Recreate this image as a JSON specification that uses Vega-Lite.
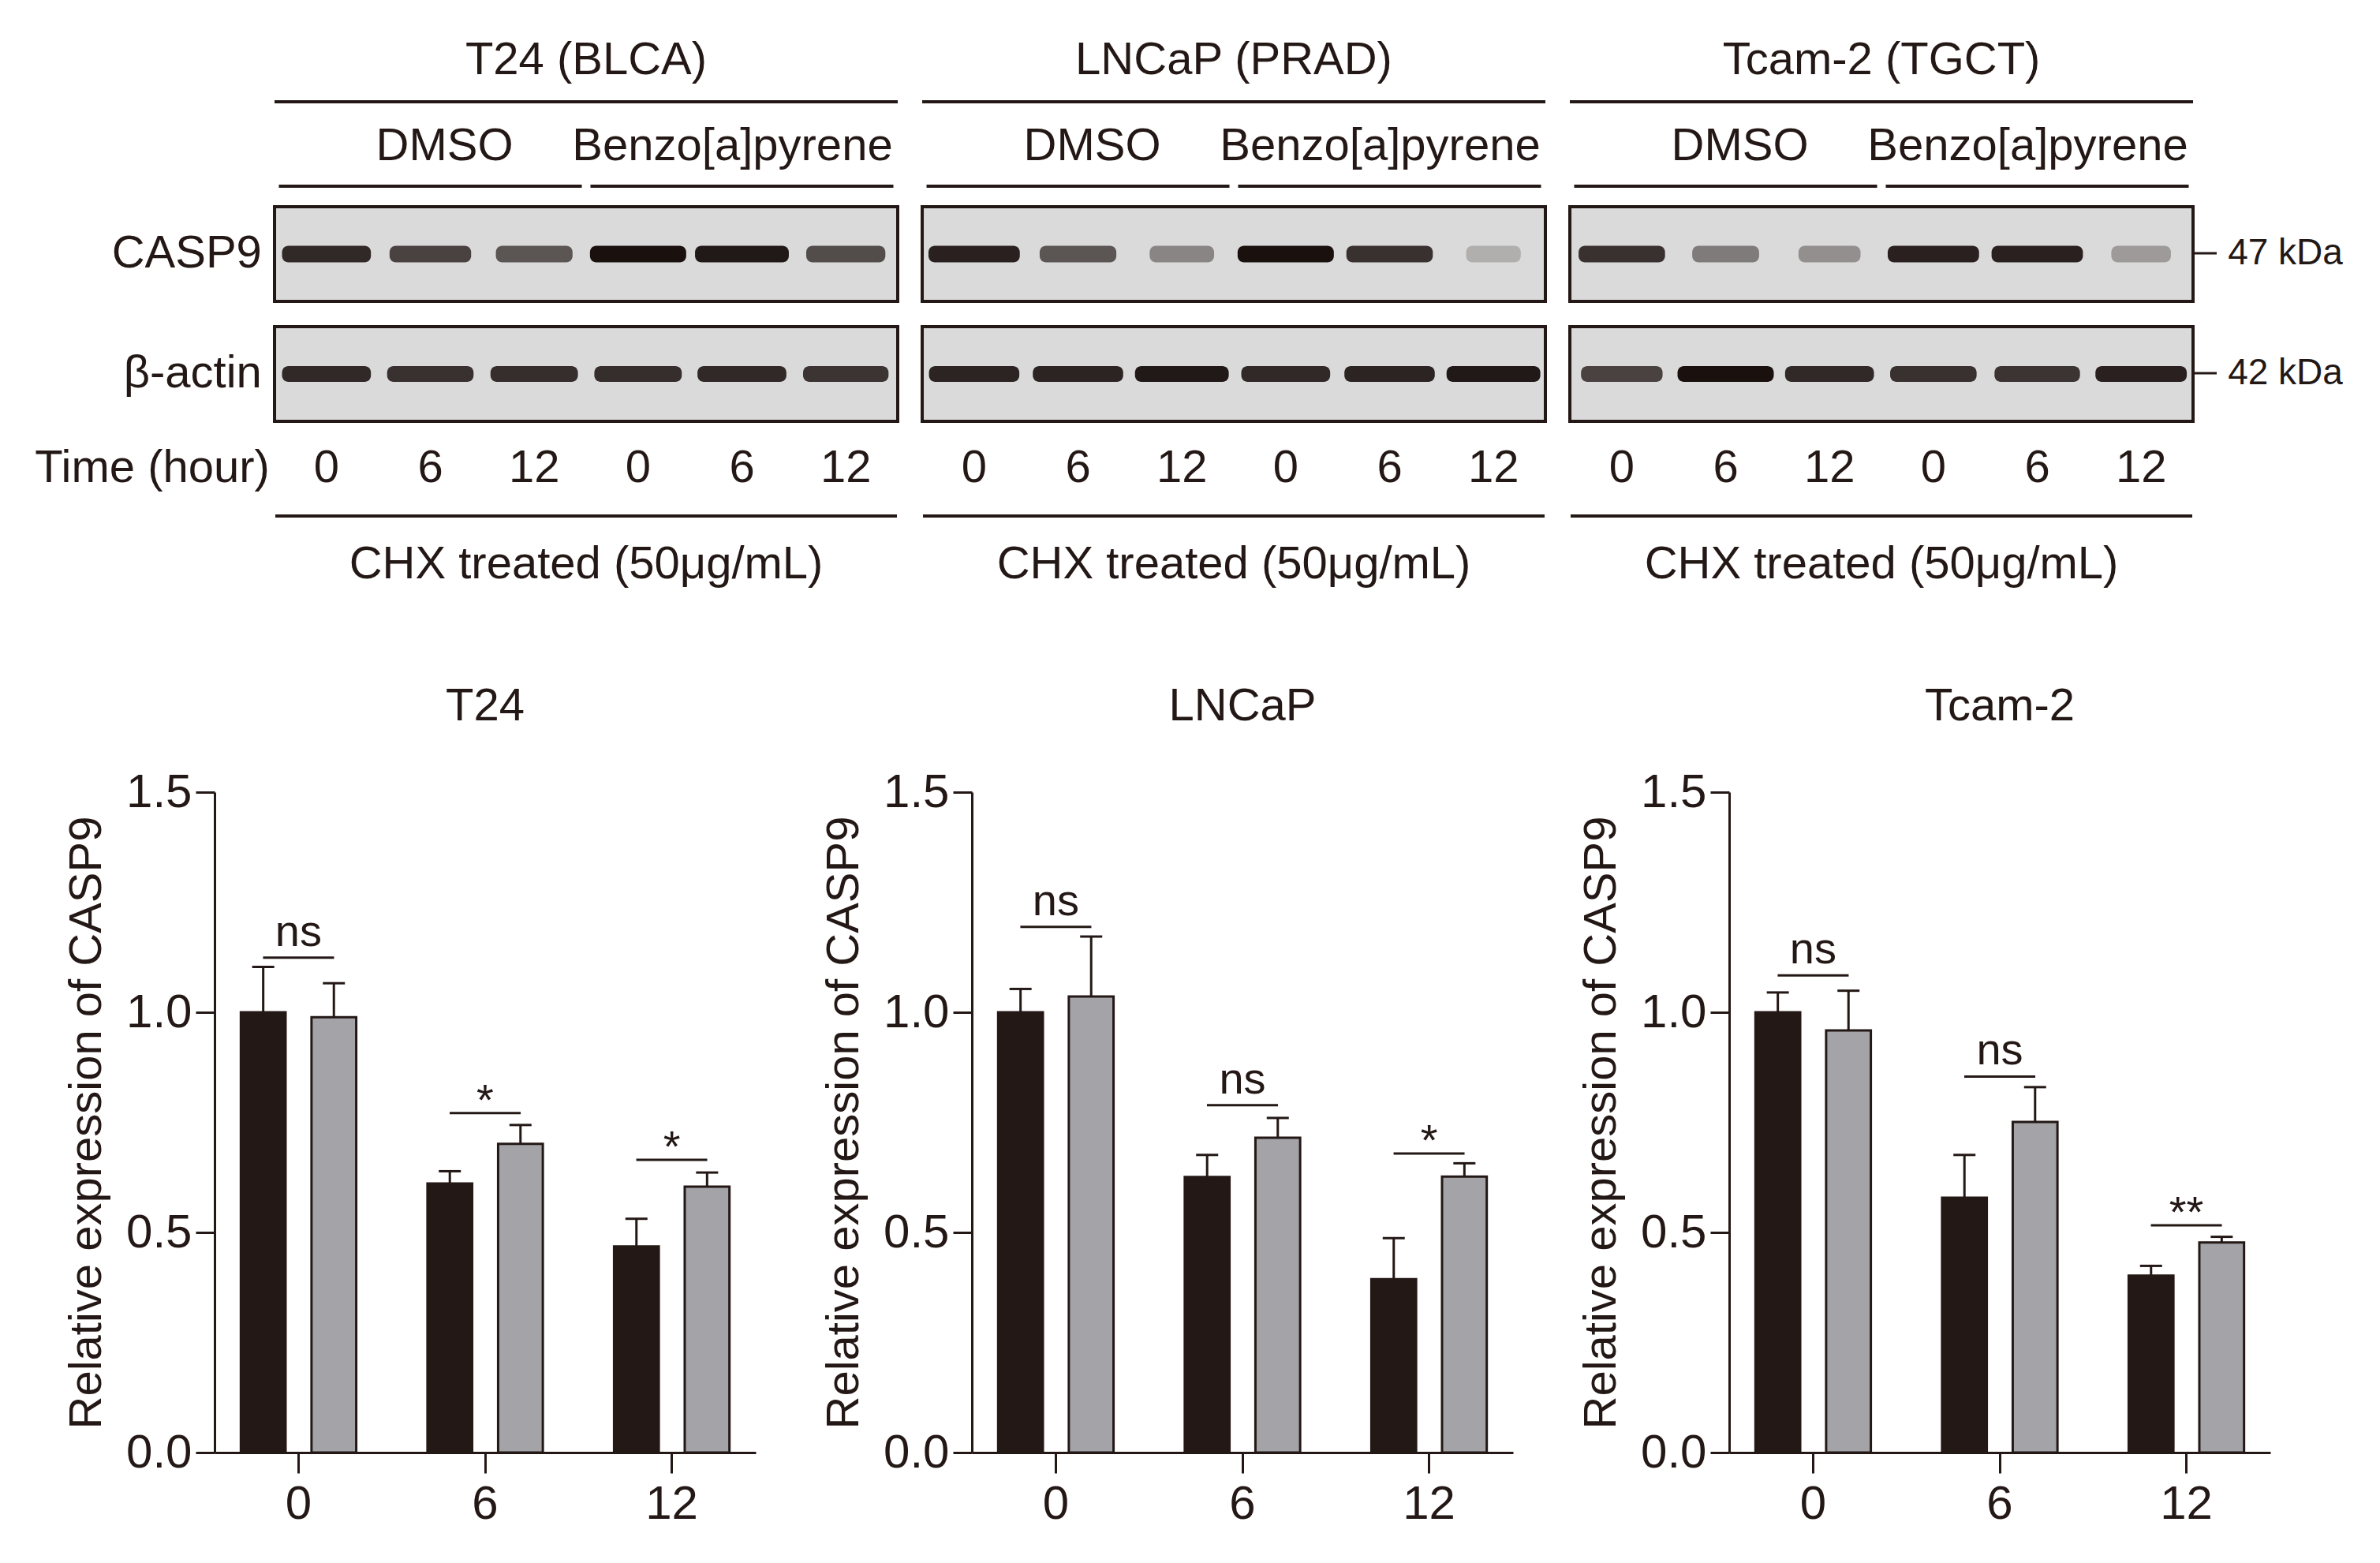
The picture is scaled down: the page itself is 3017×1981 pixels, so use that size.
{
"$schema": "https://vega.github.io/schema/vega-lite/v6.json",
"background": "white",
"padding": {"left": 44, "top": 0, "right": 0, "bottom": 0},
"bounds": "flush",
"spacing": 224,
"resolve": {"scale": {"xOffset": "independent", "color": "independent", "size": "independent", "fill": "independent"}},
"config": {
  "view": {"stroke": null},
  "font": "Liberation Sans",
  "text": {"color": "#231815", "font": "Liberation Sans", "fontSize": 58},
  "rule": {"color": "#231815"},
  "tick": {"color": "#231815", "opacity": 1},
  "axis": {"domainColor": "#231815", "tickColor": "#231815", "labelColor": "#231815", "titleColor": "#231815", "labelFont": "Liberation Sans", "titleFont": "Liberation Sans", "grid": false, "domainWidth": 3, "tickWidth": 3, "titleFontWeight": "normal"},
  "title": {"font": "Liberation Sans", "fontSize": 58, "fontWeight": "normal", "color": "#231815"}
},
"datasets": {
  "blots": [
    {"blot": "T24", "title": "T24 (BLCA)"},
    {"blot": "LNCaP", "title": "LNCaP (PRAD)"},
    {"blot": "Tcam-2", "title": "Tcam-2 (TGCT)"}
  ],
  "lanes": [
    {"blot": "T24", "lane": 1, "time": "0", "treatment": "DMSO"},
    {"blot": "T24", "lane": 2, "time": "6", "treatment": "DMSO"},
    {"blot": "T24", "lane": 3, "time": "12", "treatment": "DMSO"},
    {"blot": "T24", "lane": 4, "time": "0", "treatment": "Benzo[a]pyrene"},
    {"blot": "T24", "lane": 5, "time": "6", "treatment": "Benzo[a]pyrene"},
    {"blot": "T24", "lane": 6, "time": "12", "treatment": "Benzo[a]pyrene"},
    {"blot": "LNCaP", "lane": 1, "time": "0", "treatment": "DMSO"},
    {"blot": "LNCaP", "lane": 2, "time": "6", "treatment": "DMSO"},
    {"blot": "LNCaP", "lane": 3, "time": "12", "treatment": "DMSO"},
    {"blot": "LNCaP", "lane": 4, "time": "0", "treatment": "Benzo[a]pyrene"},
    {"blot": "LNCaP", "lane": 5, "time": "6", "treatment": "Benzo[a]pyrene"},
    {"blot": "LNCaP", "lane": 6, "time": "12", "treatment": "Benzo[a]pyrene"},
    {"blot": "Tcam-2", "lane": 1, "time": "0", "treatment": "DMSO"},
    {"blot": "Tcam-2", "lane": 2, "time": "6", "treatment": "DMSO"},
    {"blot": "Tcam-2", "lane": 3, "time": "12", "treatment": "DMSO"},
    {"blot": "Tcam-2", "lane": 4, "time": "0", "treatment": "Benzo[a]pyrene"},
    {"blot": "Tcam-2", "lane": 5, "time": "6", "treatment": "Benzo[a]pyrene"},
    {"blot": "Tcam-2", "lane": 6, "time": "12", "treatment": "Benzo[a]pyrene"}
  ],
  "bands": [
    {"blot": "T24", "protein": "CASP9", "lane": 1, "intensity": 0.85},
    {"blot": "T24", "protein": "CASP9", "lane": 2, "intensity": 0.7},
    {"blot": "T24", "protein": "CASP9", "lane": 3, "intensity": 0.6},
    {"blot": "T24", "protein": "CASP9", "lane": 4, "intensity": 1.0},
    {"blot": "T24", "protein": "CASP9", "lane": 5, "intensity": 0.95},
    {"blot": "T24", "protein": "CASP9", "lane": 6, "intensity": 0.65},
    {"blot": "T24", "protein": "β-actin", "lane": 1, "intensity": 0.85},
    {"blot": "T24", "protein": "β-actin", "lane": 2, "intensity": 0.8},
    {"blot": "T24", "protein": "β-actin", "lane": 3, "intensity": 0.82},
    {"blot": "T24", "protein": "β-actin", "lane": 4, "intensity": 0.82},
    {"blot": "T24", "protein": "β-actin", "lane": 5, "intensity": 0.85},
    {"blot": "T24", "protein": "β-actin", "lane": 6, "intensity": 0.78},
    {"blot": "LNCaP", "protein": "CASP9", "lane": 1, "intensity": 0.9},
    {"blot": "LNCaP", "protein": "CASP9", "lane": 2, "intensity": 0.6},
    {"blot": "LNCaP", "protein": "CASP9", "lane": 3, "intensity": 0.35},
    {"blot": "LNCaP", "protein": "CASP9", "lane": 4, "intensity": 1.0},
    {"blot": "LNCaP", "protein": "CASP9", "lane": 5, "intensity": 0.8},
    {"blot": "LNCaP", "protein": "CASP9", "lane": 6, "intensity": 0.15},
    {"blot": "LNCaP", "protein": "β-actin", "lane": 1, "intensity": 0.88},
    {"blot": "LNCaP", "protein": "β-actin", "lane": 2, "intensity": 0.88},
    {"blot": "LNCaP", "protein": "β-actin", "lane": 3, "intensity": 0.95},
    {"blot": "LNCaP", "protein": "β-actin", "lane": 4, "intensity": 0.85},
    {"blot": "LNCaP", "protein": "β-actin", "lane": 5, "intensity": 0.88},
    {"blot": "LNCaP", "protein": "β-actin", "lane": 6, "intensity": 0.95},
    {"blot": "Tcam-2", "protein": "CASP9", "lane": 1, "intensity": 0.8},
    {"blot": "Tcam-2", "protein": "CASP9", "lane": 2, "intensity": 0.4},
    {"blot": "Tcam-2", "protein": "CASP9", "lane": 3, "intensity": 0.3},
    {"blot": "Tcam-2", "protein": "CASP9", "lane": 4, "intensity": 0.9},
    {"blot": "Tcam-2", "protein": "CASP9", "lane": 5, "intensity": 0.9},
    {"blot": "Tcam-2", "protein": "CASP9", "lane": 6, "intensity": 0.25},
    {"blot": "Tcam-2", "protein": "β-actin", "lane": 1, "intensity": 0.7},
    {"blot": "Tcam-2", "protein": "β-actin", "lane": 2, "intensity": 1.0},
    {"blot": "Tcam-2", "protein": "β-actin", "lane": 3, "intensity": 0.85},
    {"blot": "Tcam-2", "protein": "β-actin", "lane": 4, "intensity": 0.8},
    {"blot": "Tcam-2", "protein": "β-actin", "lane": 5, "intensity": 0.78},
    {"blot": "Tcam-2", "protein": "β-actin", "lane": 6, "intensity": 0.9}
  ],
  "bars": [
    {"cell": "T24", "time": "0", "group": "DMSO", "value": 1.0, "err": 1.103},
    {"cell": "T24", "time": "0", "group": "Benzo[a]pyrene", "value": 0.989, "err": 1.066},
    {"cell": "T24", "time": "6", "group": "DMSO", "value": 0.611, "err": 0.639},
    {"cell": "T24", "time": "6", "group": "Benzo[a]pyrene", "value": 0.701, "err": 0.744},
    {"cell": "T24", "time": "12", "group": "DMSO", "value": 0.468, "err": 0.531},
    {"cell": "T24", "time": "12", "group": "Benzo[a]pyrene", "value": 0.604, "err": 0.636},
    {"cell": "LNCaP", "time": "0", "group": "DMSO", "value": 1.0, "err": 1.053},
    {"cell": "LNCaP", "time": "0", "group": "Benzo[a]pyrene", "value": 1.036, "err": 1.172},
    {"cell": "LNCaP", "time": "6", "group": "DMSO", "value": 0.626, "err": 0.676},
    {"cell": "LNCaP", "time": "6", "group": "Benzo[a]pyrene", "value": 0.715, "err": 0.76},
    {"cell": "LNCaP", "time": "12", "group": "DMSO", "value": 0.394, "err": 0.487},
    {"cell": "LNCaP", "time": "12", "group": "Benzo[a]pyrene", "value": 0.627, "err": 0.657},
    {"cell": "Tcam-2", "time": "0", "group": "DMSO", "value": 1.0, "err": 1.045},
    {"cell": "Tcam-2", "time": "0", "group": "Benzo[a]pyrene", "value": 0.959, "err": 1.049},
    {"cell": "Tcam-2", "time": "6", "group": "DMSO", "value": 0.579, "err": 0.676},
    {"cell": "Tcam-2", "time": "6", "group": "Benzo[a]pyrene", "value": 0.751, "err": 0.83},
    {"cell": "Tcam-2", "time": "12", "group": "DMSO", "value": 0.402, "err": 0.424},
    {"cell": "Tcam-2", "time": "12", "group": "Benzo[a]pyrene", "value": 0.477, "err": 0.49}
  ],
  "sig": [
    {"cell": "T24", "time": "0", "line": 1.124, "label": "ns"},
    {"cell": "T24", "time": "6", "line": 0.771, "label": "*"},
    {"cell": "T24", "time": "12", "line": 0.665, "label": "*"},
    {"cell": "LNCaP", "time": "0", "line": 1.194, "label": "ns"},
    {"cell": "LNCaP", "time": "6", "line": 0.789, "label": "ns"},
    {"cell": "LNCaP", "time": "12", "line": 0.679, "label": "*"},
    {"cell": "Tcam-2", "time": "0", "line": 1.084, "label": "ns"},
    {"cell": "Tcam-2", "time": "6", "line": 0.854, "label": "ns"},
    {"cell": "Tcam-2", "time": "12", "line": 0.516, "label": "**"}
  ]
},
"vconcat": [
{
"width": 2508, "height": 780,
"layer": [
  {"data": {"name": "blots"}, "mark": {"type": "text", "baseline": "middle"},
   "encoding": {
     "x": {"field": "blot", "type": "nominal", "scale": {"domain": ["T24", "LNCaP", "Tcam-2"], "paddingInner": 0.0378, "paddingOuter": 0.0463, "align": 1}, "axis": null},
     "y": {"datum": 7.7, "type": "quantitative", "scale": {"domain": [0, 78], "reverse": true, "nice": false, "zero": false}, "axis": null},
     "text": {"field": "title"}}},
  {"data": {"name": "blots"}, "mark": {"type": "tick", "orient": "horizontal", "size": 790, "thickness": 4},
   "encoding": {
     "x": {"field": "blot", "type": "nominal", "scale": {"domain": ["T24", "LNCaP", "Tcam-2"], "paddingInner": 0.0378, "paddingOuter": 0.0463, "align": 1}, "axis": null},
     "y": {"datum": 12.9, "type": "quantitative", "scale": {"domain": [0, 78], "reverse": true, "nice": false, "zero": false}, "axis": null}}},
  {"data": {"name": "lanes"}, "transform": [{"aggregate": [{"op": "median", "field": "lane", "as": "mid"}], "groupby": ["blot", "treatment"]}, {"filter": "datum.treatment === 'DMSO'"}],
   "mark": {"type": "text", "baseline": "middle", "dx": 18},
   "encoding": {
     "x": {"field": "blot", "type": "nominal", "scale": {"domain": ["T24", "LNCaP", "Tcam-2"], "paddingInner": 0.0378, "paddingOuter": 0.0463, "align": 1}, "axis": null},
     "xOffset": {"field": "mid", "type": "ordinal", "scale": {"domain": [1, 2, 3, 4, 5, 6], "paddingInner": 0, "paddingOuter": 0}},
     "y": {"datum": 18.6, "type": "quantitative", "scale": {"domain": [0, 78], "reverse": true, "nice": false, "zero": false}, "axis": null},
     "text": {"field": "treatment"}}},
  {"data": {"name": "lanes"}, "transform": [{"aggregate": [{"op": "median", "field": "lane", "as": "mid"}], "groupby": ["blot", "treatment"]}, {"filter": "datum.treatment !== 'DMSO'"}],
   "mark": {"type": "text", "baseline": "middle", "dx": -12},
   "encoding": {
     "x": {"field": "blot", "type": "nominal", "scale": {"domain": ["T24", "LNCaP", "Tcam-2"], "paddingInner": 0.0378, "paddingOuter": 0.0463, "align": 1}, "axis": null},
     "xOffset": {"field": "mid", "type": "ordinal", "scale": {"domain": [1, 2, 3, 4, 5, 6], "paddingInner": 0, "paddingOuter": 0}},
     "y": {"datum": 18.6, "type": "quantitative", "scale": {"domain": [0, 78], "reverse": true, "nice": false, "zero": false}, "axis": null},
     "text": {"field": "treatment"}}},
  {"data": {"name": "lanes"}, "transform": [{"aggregate": [{"op": "median", "field": "lane", "as": "mid"}], "groupby": ["blot", "treatment"]}],
   "mark": {"type": "tick", "orient": "horizontal", "size": 384, "thickness": 4},
   "encoding": {
     "x": {"field": "blot", "type": "nominal", "scale": {"domain": ["T24", "LNCaP", "Tcam-2"], "paddingInner": 0.0378, "paddingOuter": 0.0463, "align": 1}, "axis": null},
     "xOffset": {"field": "mid", "type": "ordinal", "scale": {"domain": [1, 2, 3, 4, 5, 6], "paddingInner": 0, "paddingOuter": 0}},
     "y": {"datum": 23.6, "type": "quantitative", "scale": {"domain": [0, 78], "reverse": true, "nice": false, "zero": false}, "axis": null}}},
  {"data": {"name": "blots"}, "mark": {"type": "rect", "fill": "#dadada", "stroke": "#231815", "strokeWidth": 4},
   "encoding": {
     "x": {"field": "blot", "type": "nominal", "scale": {"domain": ["T24", "LNCaP", "Tcam-2"], "paddingInner": 0.0378, "paddingOuter": 0.0463, "align": 1}, "axis": null},
     "y": {"datum": 26.2, "type": "quantitative", "scale": {"domain": [0, 78], "reverse": true, "nice": false, "zero": false}, "axis": null},
     "y2": {"datum": 38.2}}},
  {"data": {"name": "blots"}, "mark": {"type": "rect", "fill": "#dadada", "stroke": "#231815", "strokeWidth": 4},
   "encoding": {
     "x": {"field": "blot", "type": "nominal", "scale": {"domain": ["T24", "LNCaP", "Tcam-2"], "paddingInner": 0.0378, "paddingOuter": 0.0463, "align": 1}, "axis": null},
     "y": {"datum": 41.4, "type": "quantitative", "scale": {"domain": [0, 78], "reverse": true, "nice": false, "zero": false}, "axis": null},
     "y2": {"datum": 53.4}}},
  {"data": {"name": "bands"}, "transform": [{"filter": "datum.protein === 'CASP9'"}],
   "mark": {"type": "tick", "orient": "horizontal", "thickness": 21, "opacity": 1, "cornerRadius": 8},
   "encoding": {
     "x": {"field": "blot", "type": "nominal", "scale": {"domain": ["T24", "LNCaP", "Tcam-2"], "paddingInner": 0.0378, "paddingOuter": 0.0463, "align": 1}, "axis": null},
     "xOffset": {"field": "lane", "type": "ordinal", "scale": {"domain": [1, 2, 3, 4, 5, 6], "paddingInner": 0, "paddingOuter": 0}},
     "y": {"datum": 32.2, "type": "quantitative", "scale": {"domain": [0, 78], "reverse": true, "nice": false, "zero": false}, "axis": null},
     "color": {"field": "intensity", "type": "quantitative", "scale": {"domain": [0, 1], "range": ["#cfcfcf", "#1a100e"]}, "legend": null},
     "size": {"field": "intensity", "type": "quantitative", "scale": {"domain": [0, 1], "range": [60, 122]}, "legend": null}}},
  {"data": {"name": "bands"}, "transform": [{"filter": "datum.protein === 'β-actin'"}],
   "mark": {"type": "tick", "orient": "horizontal", "thickness": 20, "opacity": 1, "cornerRadius": 8},
   "encoding": {
     "x": {"field": "blot", "type": "nominal", "scale": {"domain": ["T24", "LNCaP", "Tcam-2"], "paddingInner": 0.0378, "paddingOuter": 0.0463, "align": 1}, "axis": null},
     "xOffset": {"field": "lane", "type": "ordinal", "scale": {"domain": [1, 2, 3, 4, 5, 6], "paddingInner": 0, "paddingOuter": 0}},
     "y": {"datum": 47.4, "type": "quantitative", "scale": {"domain": [0, 78], "reverse": true, "nice": false, "zero": false}, "axis": null},
     "color": {"field": "intensity", "type": "quantitative", "scale": {"domain": [0, 1], "range": ["#cfcfcf", "#1a100e"]}, "legend": null},
     "size": {"field": "intensity", "type": "quantitative", "scale": {"domain": [0, 1], "range": [60, 122]}, "legend": null}}},
  {"data": {"name": "lanes"}, "mark": {"type": "text", "baseline": "middle"},
   "encoding": {
     "x": {"field": "blot", "type": "nominal", "scale": {"domain": ["T24", "LNCaP", "Tcam-2"], "paddingInner": 0.0378, "paddingOuter": 0.0463, "align": 1}, "axis": null},
     "xOffset": {"field": "lane", "type": "ordinal", "scale": {"domain": [1, 2, 3, 4, 5, 6], "paddingInner": 0, "paddingOuter": 0}},
     "y": {"datum": 59.4, "type": "quantitative", "scale": {"domain": [0, 78], "reverse": true, "nice": false, "zero": false}, "axis": null},
     "text": {"field": "time"}}},
  {"data": {"name": "blots"}, "mark": {"type": "tick", "orient": "horizontal", "size": 788, "thickness": 4},
   "encoding": {
     "x": {"field": "blot", "type": "nominal", "scale": {"domain": ["T24", "LNCaP", "Tcam-2"], "paddingInner": 0.0378, "paddingOuter": 0.0463, "align": 1}, "axis": null},
     "y": {"datum": 65.4, "type": "quantitative", "scale": {"domain": [0, 78], "reverse": true, "nice": false, "zero": false}, "axis": null}}},
  {"data": {"name": "blots"}, "mark": {"type": "text", "baseline": "middle"},
   "encoding": {
     "x": {"field": "blot", "type": "nominal", "scale": {"domain": ["T24", "LNCaP", "Tcam-2"], "paddingInner": 0.0378, "paddingOuter": 0.0463, "align": 1}, "axis": null},
     "y": {"datum": 71.6, "type": "quantitative", "scale": {"domain": [0, 78], "reverse": true, "nice": false, "zero": false}, "axis": null},
     "text": {"value": "CHX treated (50μg/mL)"}}},
  {"data": {"values": [{"label": "CASP9", "blot": "T24", "lane": 1}]}, "mark": {"type": "text", "baseline": "middle", "align": "right", "dx": -82},
   "encoding": {
     "x": {"field": "blot", "type": "nominal", "scale": {"domain": ["T24", "LNCaP", "Tcam-2"], "paddingInner": 0.0378, "paddingOuter": 0.0463, "align": 1}, "axis": null},
     "xOffset": {"field": "lane", "type": "ordinal", "scale": {"domain": [1, 2, 3, 4, 5, 6], "paddingInner": 0, "paddingOuter": 0}},
     "y": {"datum": 32.2, "type": "quantitative", "scale": {"domain": [0, 78], "reverse": true, "nice": false, "zero": false}, "axis": null},
     "text": {"field": "label"}}},
  {"data": {"values": [{"label": "β-actin", "blot": "T24", "lane": 1}]}, "mark": {"type": "text", "baseline": "middle", "align": "right", "dx": -82},
   "encoding": {
     "x": {"field": "blot", "type": "nominal", "scale": {"domain": ["T24", "LNCaP", "Tcam-2"], "paddingInner": 0.0378, "paddingOuter": 0.0463, "align": 1}, "axis": null},
     "xOffset": {"field": "lane", "type": "ordinal", "scale": {"domain": [1, 2, 3, 4, 5, 6], "paddingInner": 0, "paddingOuter": 0}},
     "y": {"datum": 47.4, "type": "quantitative", "scale": {"domain": [0, 78], "reverse": true, "nice": false, "zero": false}, "axis": null},
     "text": {"field": "label"}}},
  {"data": {"values": [{"label": "Time (hour)", "blot": "T24", "lane": 1}]}, "mark": {"type": "text", "baseline": "middle", "align": "right", "dx": -72},
   "encoding": {
     "x": {"field": "blot", "type": "nominal", "scale": {"domain": ["T24", "LNCaP", "Tcam-2"], "paddingInner": 0.0378, "paddingOuter": 0.0463, "align": 1}, "axis": null},
     "xOffset": {"field": "lane", "type": "ordinal", "scale": {"domain": [1, 2, 3, 4, 5, 6], "paddingInner": 0, "paddingOuter": 0}},
     "y": {"datum": 59.4, "type": "quantitative", "scale": {"domain": [0, 78], "reverse": true, "nice": false, "zero": false}, "axis": null},
     "text": {"field": "label"}}},
  {"data": {"values": [{"label": "47 kDa", "blot": "Tcam-2"}]}, "mark": {"type": "tick", "orient": "horizontal", "size": 28, "thickness": 3, "xOffset": 411},
   "encoding": {
     "x": {"field": "blot", "type": "nominal", "scale": {"domain": ["T24", "LNCaP", "Tcam-2"], "paddingInner": 0.0378, "paddingOuter": 0.0463, "align": 1}, "axis": null},
     "y": {"datum": 32.1, "type": "quantitative", "scale": {"domain": [0, 78], "reverse": true, "nice": false, "zero": false}, "axis": null}}},
  {"data": {"values": [{"label": "42 kDa", "blot": "Tcam-2"}]}, "mark": {"type": "tick", "orient": "horizontal", "size": 28, "thickness": 3, "xOffset": 411},
   "encoding": {
     "x": {"field": "blot", "type": "nominal", "scale": {"domain": ["T24", "LNCaP", "Tcam-2"], "paddingInner": 0.0378, "paddingOuter": 0.0463, "align": 1}, "axis": null},
     "y": {"datum": 47.3, "type": "quantitative", "scale": {"domain": [0, 78], "reverse": true, "nice": false, "zero": false}, "axis": null}}},
  {"data": {"values": [{"label": "47 kDa", "blot": "Tcam-2", "lane": 6}]}, "mark": {"type": "text", "baseline": "middle", "align": "left", "fontSize": 46, "dx": 110},
   "encoding": {
     "x": {"field": "blot", "type": "nominal", "scale": {"domain": ["T24", "LNCaP", "Tcam-2"], "paddingInner": 0.0378, "paddingOuter": 0.0463, "align": 1}, "axis": null},
     "xOffset": {"field": "lane", "type": "ordinal", "scale": {"domain": [1, 2, 3, 4, 5, 6], "paddingInner": 0, "paddingOuter": 0}},
     "y": {"datum": 32.1, "type": "quantitative", "scale": {"domain": [0, 78], "reverse": true, "nice": false, "zero": false}, "axis": null},
     "text": {"field": "label"}}},
  {"data": {"values": [{"label": "42 kDa", "blot": "Tcam-2", "lane": 6}]}, "mark": {"type": "text", "baseline": "middle", "align": "left", "fontSize": 46, "dx": 110},
   "encoding": {
     "x": {"field": "blot", "type": "nominal", "scale": {"domain": ["T24", "LNCaP", "Tcam-2"], "paddingInner": 0.0378, "paddingOuter": 0.0463, "align": 1}, "axis": null},
     "xOffset": {"field": "lane", "type": "ordinal", "scale": {"domain": [1, 2, 3, 4, 5, 6], "paddingInner": 0, "paddingOuter": 0}},
     "y": {"datum": 47.3, "type": "quantitative", "scale": {"domain": [0, 78], "reverse": true, "nice": false, "zero": false}, "axis": null},
     "text": {"field": "label"}}}
]
},
{
"hconcat": [
{
"width": 686, "height": 837,
"title": {"text": "T24", "frame": "group", "baseline": "alphabetic", "offset": 3, "anchor": "middle"},
"layer": [
  {"data": {"name": "bars"}, "transform": [{"filter": "datum.cell === 'T24'"}],
   "mark": {"type": "bar", "stroke": "#231815", "strokeWidth": 3},
   "encoding": {
     "x": {"field": "time", "type": "ordinal", "sort": ["0", "6", "12"], "title": null, "scale": {"paddingInner": 0.2, "paddingOuter": 0.05}, "axis": {"labelAngle": 0, "labelFontSize": 60, "tickSize": 26, "labelPadding": 10}},
     "xOffset": {"field": "group", "type": "nominal", "sort": ["DMSO", "Benzo[a]pyrene"], "scale": {"domain": ["DMSO", "Benzo[a]pyrene"], "paddingInner": 0.367, "paddingOuter": 0.24}},
     "y": {"field": "value", "type": "quantitative", "title": "Relative expression of CASP9", "scale": {"domain": [0, 1.5], "nice": false}, "axis": {"values": [0, 0.5, 1, 1.5], "format": ".1f", "labelFontSize": 60, "tickSize": 24, "labelPadding": 5, "titleFontSize": 58, "titlePadding": 20}},
     "fill": {"field": "group", "type": "nominal", "scale": {"domain": ["DMSO", "Benzo[a]pyrene"], "range": ["#231815", "#a3a3a8"]}, "legend": null}
   }},
  {"data": {"name": "bars"}, "transform": [{"filter": "datum.cell === 'T24'"}],
   "mark": {"type": "rule", "strokeWidth": 3},
   "encoding": {
     "x": {"field": "time", "type": "ordinal", "sort": ["0", "6", "12"], "title": null},
     "xOffset": {"field": "group", "type": "nominal", "sort": ["DMSO", "Benzo[a]pyrene"]},
     "y": {"field": "value", "type": "quantitative", "title": "Relative expression of CASP9", "scale": {"domain": [0, 1.5], "nice": false}},
     "y2": {"field": "err"}
   }},
  {"data": {"name": "bars"}, "transform": [{"filter": "datum.cell === 'T24'"}],
   "mark": {"type": "tick", "orient": "horizontal", "size": 28, "thickness": 3},
   "encoding": {
     "x": {"field": "time", "type": "ordinal", "sort": ["0", "6", "12"], "title": null},
     "xOffset": {"field": "group", "type": "nominal", "sort": ["DMSO", "Benzo[a]pyrene"]},
     "y": {"field": "err", "type": "quantitative", "title": "Relative expression of CASP9", "scale": {"domain": [0, 1.5], "nice": false}}
   }},
  {"data": {"name": "sig"}, "transform": [{"filter": "datum.cell === 'T24'"}],
   "mark": {"type": "tick", "orient": "horizontal", "size": 90, "thickness": 3},
   "encoding": {
     "x": {"field": "time", "type": "ordinal", "sort": ["0", "6", "12"], "title": null},
     "y": {"field": "line", "type": "quantitative", "title": "Relative expression of CASP9", "scale": {"domain": [0, 1.5], "nice": false}}
   }},
  {"data": {"name": "sig"}, "transform": [{"filter": "datum.cell === 'T24' && datum.label === 'ns'"}],
   "mark": {"type": "text", "baseline": "alphabetic", "dy": -15, "fontSize": 56},
   "encoding": {
     "x": {"field": "time", "type": "ordinal", "sort": ["0", "6", "12"], "title": null},
     "y": {"field": "line", "type": "quantitative", "title": "Relative expression of CASP9", "scale": {"domain": [0, 1.5], "nice": false}},
     "text": {"field": "label"}
   }},
  {"data": {"name": "sig"}, "transform": [{"filter": "datum.cell === 'T24' && datum.label !== 'ns'"}],
   "mark": {"type": "text", "baseline": "alphabetic", "dy": 2, "fontSize": 56},
   "encoding": {
     "x": {"field": "time", "type": "ordinal", "sort": ["0", "6", "12"], "title": null},
     "y": {"field": "line", "type": "quantitative", "title": "Relative expression of CASP9", "scale": {"domain": [0, 1.5], "nice": false}},
     "text": {"field": "label"}
   }}
]
},
{
"width": 686, "height": 837,
"title": {"text": "LNCaP", "frame": "group", "baseline": "alphabetic", "offset": 3, "anchor": "middle"},
"layer": [
  {"data": {"name": "bars"}, "transform": [{"filter": "datum.cell === 'LNCaP'"}],
   "mark": {"type": "bar", "stroke": "#231815", "strokeWidth": 3},
   "encoding": {
     "x": {"field": "time", "type": "ordinal", "sort": ["0", "6", "12"], "title": null, "scale": {"paddingInner": 0.2, "paddingOuter": 0.05}, "axis": {"labelAngle": 0, "labelFontSize": 60, "tickSize": 26, "labelPadding": 10}},
     "xOffset": {"field": "group", "type": "nominal", "sort": ["DMSO", "Benzo[a]pyrene"], "scale": {"domain": ["DMSO", "Benzo[a]pyrene"], "paddingInner": 0.367, "paddingOuter": 0.24}},
     "y": {"field": "value", "type": "quantitative", "title": "Relative expression of CASP9", "scale": {"domain": [0, 1.5], "nice": false}, "axis": {"values": [0, 0.5, 1, 1.5], "format": ".1f", "labelFontSize": 60, "tickSize": 24, "labelPadding": 5, "titleFontSize": 58, "titlePadding": 20}},
     "fill": {"field": "group", "type": "nominal", "scale": {"domain": ["DMSO", "Benzo[a]pyrene"], "range": ["#231815", "#a3a3a8"]}, "legend": null}
   }},
  {"data": {"name": "bars"}, "transform": [{"filter": "datum.cell === 'LNCaP'"}],
   "mark": {"type": "rule", "strokeWidth": 3},
   "encoding": {
     "x": {"field": "time", "type": "ordinal", "sort": ["0", "6", "12"], "title": null},
     "xOffset": {"field": "group", "type": "nominal", "sort": ["DMSO", "Benzo[a]pyrene"]},
     "y": {"field": "value", "type": "quantitative", "title": "Relative expression of CASP9", "scale": {"domain": [0, 1.5], "nice": false}},
     "y2": {"field": "err"}
   }},
  {"data": {"name": "bars"}, "transform": [{"filter": "datum.cell === 'LNCaP'"}],
   "mark": {"type": "tick", "orient": "horizontal", "size": 28, "thickness": 3},
   "encoding": {
     "x": {"field": "time", "type": "ordinal", "sort": ["0", "6", "12"], "title": null},
     "xOffset": {"field": "group", "type": "nominal", "sort": ["DMSO", "Benzo[a]pyrene"]},
     "y": {"field": "err", "type": "quantitative", "title": "Relative expression of CASP9", "scale": {"domain": [0, 1.5], "nice": false}}
   }},
  {"data": {"name": "sig"}, "transform": [{"filter": "datum.cell === 'LNCaP'"}],
   "mark": {"type": "tick", "orient": "horizontal", "size": 90, "thickness": 3},
   "encoding": {
     "x": {"field": "time", "type": "ordinal", "sort": ["0", "6", "12"], "title": null},
     "y": {"field": "line", "type": "quantitative", "title": "Relative expression of CASP9", "scale": {"domain": [0, 1.5], "nice": false}}
   }},
  {"data": {"name": "sig"}, "transform": [{"filter": "datum.cell === 'LNCaP' && datum.label === 'ns'"}],
   "mark": {"type": "text", "baseline": "alphabetic", "dy": -15, "fontSize": 56},
   "encoding": {
     "x": {"field": "time", "type": "ordinal", "sort": ["0", "6", "12"], "title": null},
     "y": {"field": "line", "type": "quantitative", "title": "Relative expression of CASP9", "scale": {"domain": [0, 1.5], "nice": false}},
     "text": {"field": "label"}
   }},
  {"data": {"name": "sig"}, "transform": [{"filter": "datum.cell === 'LNCaP' && datum.label !== 'ns'"}],
   "mark": {"type": "text", "baseline": "alphabetic", "dy": 2, "fontSize": 56},
   "encoding": {
     "x": {"field": "time", "type": "ordinal", "sort": ["0", "6", "12"], "title": null},
     "y": {"field": "line", "type": "quantitative", "title": "Relative expression of CASP9", "scale": {"domain": [0, 1.5], "nice": false}},
     "text": {"field": "label"}
   }}
]
},
{
"width": 686, "height": 837,
"title": {"text": "Tcam-2", "frame": "group", "baseline": "alphabetic", "offset": 3, "anchor": "middle"},
"layer": [
  {"data": {"name": "bars"}, "transform": [{"filter": "datum.cell === 'Tcam-2'"}],
   "mark": {"type": "bar", "stroke": "#231815", "strokeWidth": 3},
   "encoding": {
     "x": {"field": "time", "type": "ordinal", "sort": ["0", "6", "12"], "title": null, "scale": {"paddingInner": 0.2, "paddingOuter": 0.05}, "axis": {"labelAngle": 0, "labelFontSize": 60, "tickSize": 26, "labelPadding": 10}},
     "xOffset": {"field": "group", "type": "nominal", "sort": ["DMSO", "Benzo[a]pyrene"], "scale": {"domain": ["DMSO", "Benzo[a]pyrene"], "paddingInner": 0.367, "paddingOuter": 0.24}},
     "y": {"field": "value", "type": "quantitative", "title": "Relative expression of CASP9", "scale": {"domain": [0, 1.5], "nice": false}, "axis": {"values": [0, 0.5, 1, 1.5], "format": ".1f", "labelFontSize": 60, "tickSize": 24, "labelPadding": 5, "titleFontSize": 58, "titlePadding": 20}},
     "fill": {"field": "group", "type": "nominal", "scale": {"domain": ["DMSO", "Benzo[a]pyrene"], "range": ["#231815", "#a3a3a8"]}, "legend": null}
   }},
  {"data": {"name": "bars"}, "transform": [{"filter": "datum.cell === 'Tcam-2'"}],
   "mark": {"type": "rule", "strokeWidth": 3},
   "encoding": {
     "x": {"field": "time", "type": "ordinal", "sort": ["0", "6", "12"], "title": null},
     "xOffset": {"field": "group", "type": "nominal", "sort": ["DMSO", "Benzo[a]pyrene"]},
     "y": {"field": "value", "type": "quantitative", "title": "Relative expression of CASP9", "scale": {"domain": [0, 1.5], "nice": false}},
     "y2": {"field": "err"}
   }},
  {"data": {"name": "bars"}, "transform": [{"filter": "datum.cell === 'Tcam-2'"}],
   "mark": {"type": "tick", "orient": "horizontal", "size": 28, "thickness": 3},
   "encoding": {
     "x": {"field": "time", "type": "ordinal", "sort": ["0", "6", "12"], "title": null},
     "xOffset": {"field": "group", "type": "nominal", "sort": ["DMSO", "Benzo[a]pyrene"]},
     "y": {"field": "err", "type": "quantitative", "title": "Relative expression of CASP9", "scale": {"domain": [0, 1.5], "nice": false}}
   }},
  {"data": {"name": "sig"}, "transform": [{"filter": "datum.cell === 'Tcam-2'"}],
   "mark": {"type": "tick", "orient": "horizontal", "size": 90, "thickness": 3},
   "encoding": {
     "x": {"field": "time", "type": "ordinal", "sort": ["0", "6", "12"], "title": null},
     "y": {"field": "line", "type": "quantitative", "title": "Relative expression of CASP9", "scale": {"domain": [0, 1.5], "nice": false}}
   }},
  {"data": {"name": "sig"}, "transform": [{"filter": "datum.cell === 'Tcam-2' && datum.label === 'ns'"}],
   "mark": {"type": "text", "baseline": "alphabetic", "dy": -15, "fontSize": 56},
   "encoding": {
     "x": {"field": "time", "type": "ordinal", "sort": ["0", "6", "12"], "title": null},
     "y": {"field": "line", "type": "quantitative", "title": "Relative expression of CASP9", "scale": {"domain": [0, 1.5], "nice": false}},
     "text": {"field": "label"}
   }},
  {"data": {"name": "sig"}, "transform": [{"filter": "datum.cell === 'Tcam-2' && datum.label !== 'ns'"}],
   "mark": {"type": "text", "baseline": "alphabetic", "dy": 2, "fontSize": 56},
   "encoding": {
     "x": {"field": "time", "type": "ordinal", "sort": ["0", "6", "12"], "title": null},
     "y": {"field": "line", "type": "quantitative", "title": "Relative expression of CASP9", "scale": {"domain": [0, 1.5], "nice": false}},
     "text": {"field": "label"}
   }}
]
}
],
"spacing": 274,
"bounds": "flush"
}
]
}
